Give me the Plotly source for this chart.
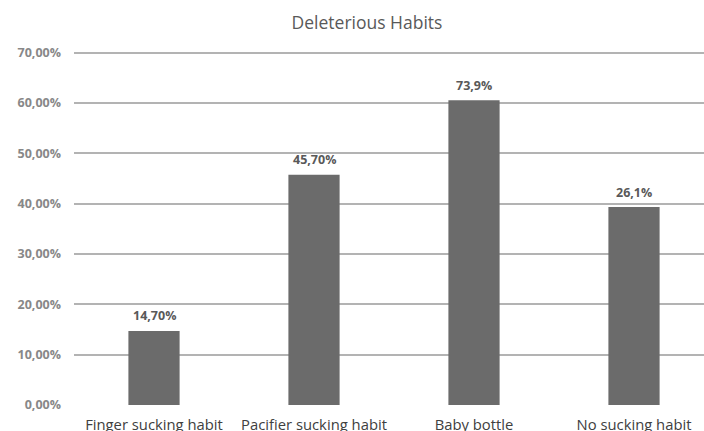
import plotly.graph_objects as go

categories = ["Finger sucking habit", "Pacifier sucking habit", "Baby bottle", "No sucking habit"]
bar_values = [14.7, 45.7, 60.5, 39.3]
bar_labels = ["14,70%", "45,70%", "73,9%", "26,1%"]
tick_vals = [0, 10, 20, 30, 40, 50, 60, 70]
tick_text = ["0,00%", "10,00%", "20,00%", "30,00%", "40,00%", "50,00%", "60,00%", "70,00%"]

fig = go.Figure()
fig.add_trace(go.Bar(
    x=list(range(len(categories))),
    y=bar_values,
    width=0.32,
    marker=dict(color="#6b6b6b", line=dict(width=0)),
    hoverinfo="skip",
))

for i, (v, lab) in enumerate(zip(bar_values, bar_labels)):
    fig.add_annotation(
        x=i, y=v, text="<b>" + lab + "</b>", showarrow=False,
        yshift=15, font=dict(family="Open Sans", size=12.5, color="#595959"),
    )

fig.update_layout(
    width=704, height=431,
    margin=dict(l=74, r=0, t=51, b=26, autoexpand=False),
    paper_bgcolor="white", plot_bgcolor="white",
    showlegend=False,
    title=dict(
        text="Deleterious Habits",
        x=367 / 704, xref="container", xanchor="center",
        y=1 - 23 / 431, yref="container", yanchor="middle",
        font=dict(family="Open Sans", size=17.5, color="#595959"),
    ),
    xaxis=dict(
        range=[-0.5, 3.4375],
        tickvals=list(range(len(categories))),
        ticktext=categories,
        showgrid=False, zeroline=False, showline=False, ticks="",
        ticklabelstandoff=9, automargin=False,
        tickfont=dict(family="Open Sans", size=14.8, color="#404040"),
    ),
    yaxis=dict(
        range=[0, 70.3],
        tickvals=tick_vals,
        ticktext=["<b>" + t + "</b>" for t in tick_text],
        showgrid=True, gridcolor="#b3b3b3", gridwidth=2,
        zeroline=False, showline=False, ticks="",
        ticklabelstandoff=12, automargin=False,
        tickfont=dict(family="Open Sans", size=12.5, color="#888888"),
    ),
)

fig.write_html("out.html")
